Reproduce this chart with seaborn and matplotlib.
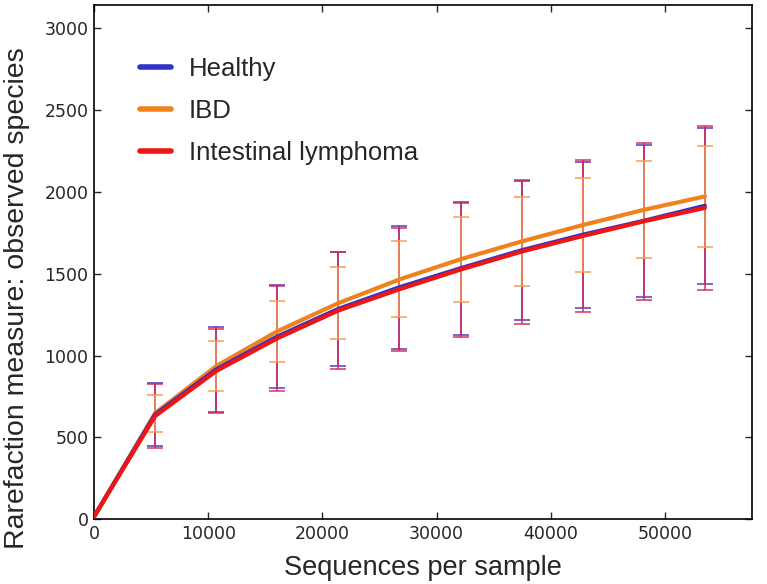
import numpy as np
import pandas as pd
import matplotlib
matplotlib.use("Agg")
import matplotlib.pyplot as plt
from matplotlib.lines import Line2D
import seaborn as sns

sns.set_style("ticks")
plt.rcParams['font.family'] = ['Liberation Sans', 'DejaVu Sans']

depth = [0, 5350, 10700, 16050, 21400, 26750, 32100, 37450, 42800, 48150, 53500]
groups = ["Healthy", "IBD", "Intestinal lymphoma"]

healthy_mean = [15, 640, 915, 1116, 1285, 1417, 1533, 1643, 1738, 1823, 1915]
healthy_sd = [0, 190, 262, 317, 350, 377, 405, 423, 445, 463, 476]
ibd_mean = [15, 648, 935, 1148, 1320, 1465, 1588, 1697, 1797, 1890, 1972]
ibd_sd = [0, 113, 152, 186, 220, 232, 259, 271, 286, 296, 307]
lymph_mean = [15, 630, 905, 1105, 1275, 1405, 1525, 1635, 1730, 1820, 1902]
lymph_sd = [0, 195, 255, 320, 360, 375, 409, 440, 462, 479, 500]

colors = {"Healthy": "#3232c8", "IBD": "#f0821e", "Intestinal lymphoma": "#ee1515"}
bar_colors = {"Healthy": "#5a2ab4", "IBD": "#f59a50", "Intestinal lymphoma": "#d2285a"}

df = pd.DataFrame({
    "depth": depth * 3,
    "group": [g for g in groups for _ in depth],
    "mean": healthy_mean + ibd_mean + lymph_mean,
    "sd": healthy_sd + ibd_sd + lymph_sd,
})

fig = plt.figure(figsize=(7.67, 5.84), dpi=100)
ax = fig.add_axes([0.1226, 0.111, 0.8574, 0.880])

# error bars first, lines on top
for g in ["Healthy", "Intestinal lymphoma", "IBD"]:
    d = df[(df.group == g) & (df.depth > 0)]
    ax.errorbar(d["depth"], d["mean"], yerr=d["sd"], fmt="none",
                ecolor=bar_colors[g], elinewidth=1.3, capsize=6, capthick=1.3,
                alpha=0.8, zorder=2)

sns.lineplot(data=df, x="depth", y="mean", hue="group", palette=colors,
             hue_order=["IBD", "Healthy", "Intestinal lymphoma"],
             linewidth=3, ax=ax, legend=False, zorder=3)

ax.set_xlim(0, 57600)
ax.set_ylim(0, 3140)
ax.set_xticks([0, 10000, 20000, 30000, 40000, 50000])
ax.set_yticks([0, 500, 1000, 1500, 2000, 2500, 3000])
ax.tick_params(direction="in", top=True, right=True, length=5, width=1,
               labelsize=12.5, pad=4)
for lab in ax.get_xticklabels() + ax.get_yticklabels():
    lab.set_family(["DejaVu Sans"])
for s in ax.spines.values():
    s.set_linewidth(1.2)
    s.set_color("black")

ax.set_xlabel("Sequences per sample", fontsize=19.5, labelpad=9)
ax.set_ylabel("Rarefaction measure: observed species", fontsize=20.5)
ax.yaxis.set_label_coords(-0.098, 0.43)

handles = [Line2D([], [], color=colors[g], linewidth=4) for g in groups]
ax.legend(handles, groups, loc="upper left", bbox_to_anchor=(0.035, 0.945),
          frameon=False, fontsize=18.5, handlelength=1.2, handletextpad=0.7,
          labelspacing=0.7)

plt.savefig("out.png", dpi=100)
plt.close()
